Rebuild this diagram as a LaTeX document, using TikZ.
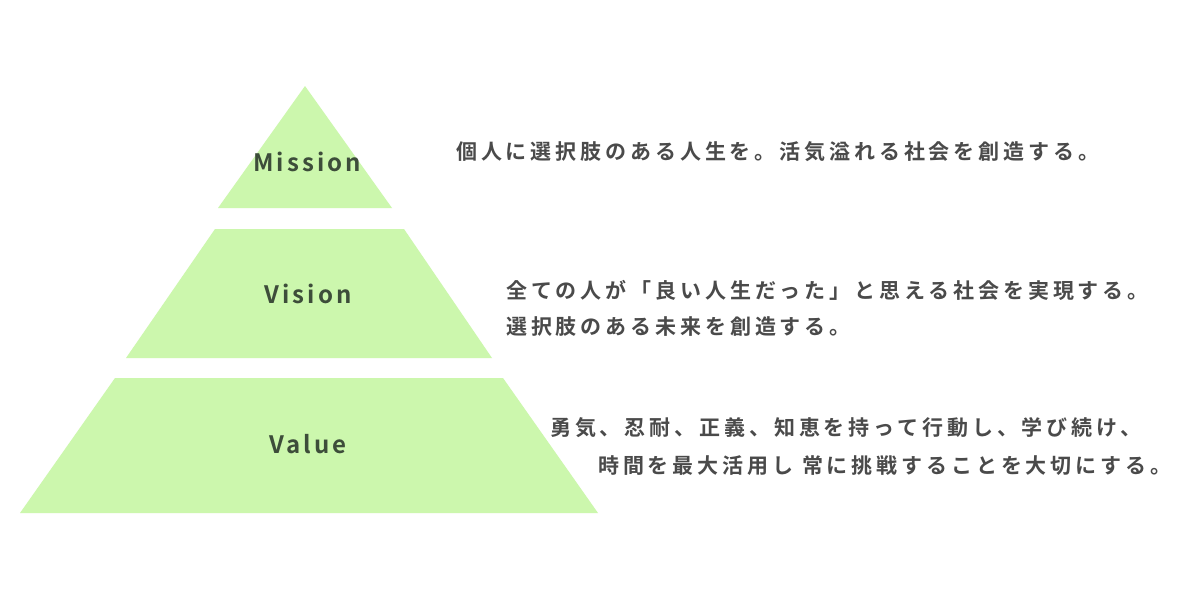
\documentclass[tikz,border=0pt]{standalone}
\usepackage{fontspec}
\setmainfont{Noto Sans CJK JP}[BoldFont={Noto Sans CJK JP Bold}]
\newfontfamily\tierfont{Noto Sans CJK JP Bold}[LetterSpace=13]
\newfontfamily\bodyfont{Noto Sans CJK JP Bold}[LetterSpace=18.5]
\definecolor{leafgreen}{RGB}{204,247,173}
\definecolor{labelgray}{RGB}{61,77,58}
\definecolor{textgray}{RGB}{74,74,74}
\tikzset{
	tier/.style={font=\tierfont\fontsize{24}{24}\selectfont, text=labelgray, inner sep=0pt},
	motto/.style={font=\bodyfont\fontsize{21}{21}\selectfont, text=textgray, inner sep=0pt, anchor=base west}
}

\begin{document}
\begin{tikzpicture}[x=1pt, y=-1pt]
			%%%%% START %%%%%
			
			\useasboundingbox[fill=white] (0, 0) rectangle (1200, 600);
			
			\fill[leafgreen] (305, 86) -- (392, 208) -- (218, 208) -- cycle;
			\fill[leafgreen] (215, 229) -- (404, 229) -- (492, 358) -- (126, 358) -- cycle;
			\fill[leafgreen] (115, 378) -- (503, 378) -- (598, 513) -- (20, 513) -- cycle;
			
			\node[tier] (mission) at (307, 162) {Mission};
			\node[tier] (vision) at (308, 294) {Vision};
			\node[tier] (value) at (308, 444) {Value};
			
			\node[motto] (missiontext) at (456, 159) {個人に選択肢のある人生を。活気溢れる社会を創造する。};
			
			\node[motto] (visiontexta) at (506, 298) {全ての人が「良い人生だった」と思える社会を実現する。};
			\node[motto] (visiontextb) at (506, 334) {選択肢のある未来を創造する。};
			
			\node[motto] (valuetexta) at (550, 435) {勇気、忍耐、正義、知恵を持って行動し、学び続け、};
			\node[motto] (valuetextb) at (598, 473) {時間を最大活用し 常に挑戦することを大切にする。};
			
			%%%%% END %%%%%
\end{tikzpicture}
\end{document}
